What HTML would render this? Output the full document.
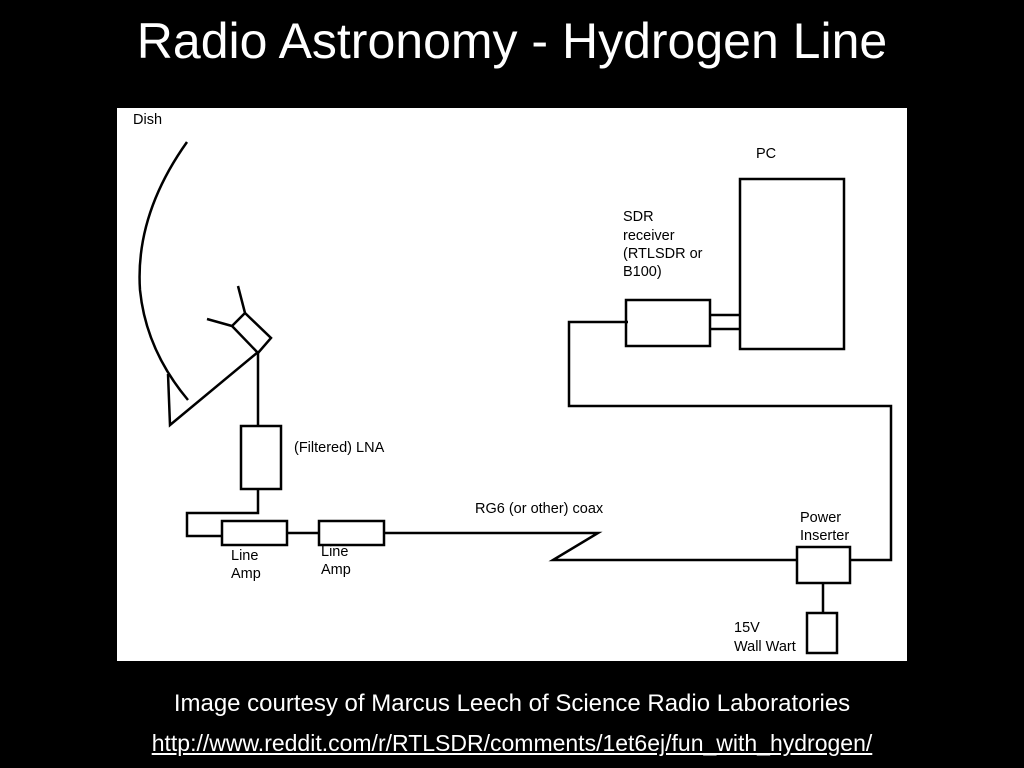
<!DOCTYPE html>
<html><head><meta charset="utf-8"><style>
html,body{margin:0;padding:0;background:#000;width:1024px;height:768px;overflow:hidden}
.t{position:absolute;left:0;width:1024px;text-align:center;color:#fff;font-family:"Liberation Sans",sans-serif;white-space:nowrap}
</style></head><body>
<div class="t" style="top:12px;font-size:50px;">Radio Astronomy - Hydrogen Line</div>
<svg style="position:absolute;left:117px;top:108px" width="790" height="553" viewBox="117 108 790 553">
<rect x="117" y="108" width="790" height="553" fill="#fff"/>
<g fill="none" stroke="#000" stroke-width="2.5">
<path d="M187 142 Q135 215 140 290 Q146 350 188 400"/>
<path d="M168 374 L170 425 L258 352"/>
<path d="M232 326 L245 313 L271 338 L258 353 Z M245 313 L238 286 M232 326 L207 319"/>
<path d="M258 353 L258 426 M258 489 L258 513 L187 513 L187 536 L222 536 M287 533 L319 533 M384 533 L598 533 L553 560 L797 560 M851 560 L891 560 L891 406 L569 406 L569 322 L628 322 M710 315 L740 315 M710 329 L740 329 M823 583 L823 613"/>
<rect x="241" y="426" width="40" height="63"/>
<rect x="222" y="521" width="65" height="24"/>
<rect x="319" y="521" width="65" height="24"/>
<rect x="626" y="300" width="84" height="46"/>
<rect x="740" y="179" width="104" height="170"/>
<rect x="797" y="547" width="53" height="36"/>
<rect x="807" y="613" width="30" height="40"/>
</g>
<g font-family="Liberation Sans,sans-serif" font-size="14.5" fill="#000">
<text x="133" y="124">Dish</text>
<text x="294" y="452">(Filtered) LNA</text>
<text x="231" y="560">Line</text>
<text x="231" y="578">Amp</text>
<text x="321" y="556">Line</text>
<text x="321" y="574">Amp</text>
<text x="475" y="513">RG6 (or other) coax</text>
<text x="756" y="158">PC</text>
<text x="623" y="221">SDR</text>
<text x="623" y="240">receiver</text>
<text x="623" y="258">(RTLSDR or</text>
<text x="623" y="276">B100)</text>
<text x="800" y="522">Power</text>
<text x="800" y="540">Inserter</text>
<text x="734" y="632">15V</text>
<text x="734" y="651">Wall Wart</text>
</g>
</svg>
<div class="t" style="top:690px;font-size:24px;">Image courtesy of Marcus Leech of Science Radio Laboratories</div>
<div class="t" style="top:730px;font-size:23px;text-decoration:underline;">http://www.reddit.com/r/RTLSDR/comments/1et6ej/fun_with_hydrogen/</div>
</body></html>
